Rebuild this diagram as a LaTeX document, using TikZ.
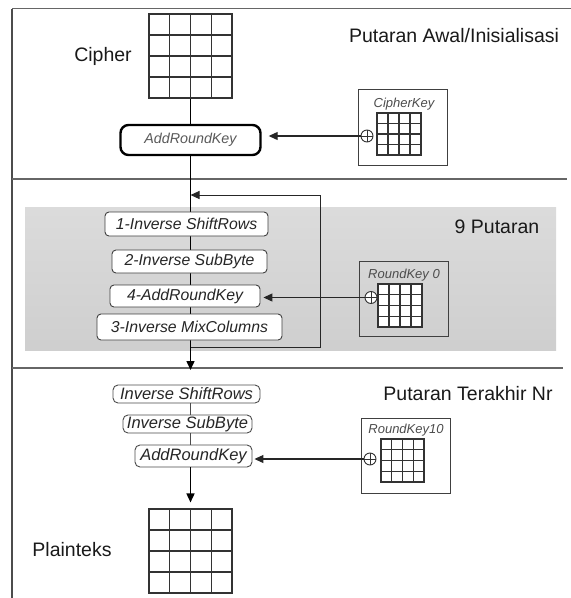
\documentclass[tikz,border=0pt]{standalone}
\usepackage{fontspec}
\setmainfont{Liberation Sans}
\usetikzlibrary{arrows.meta,calc}

\tikzset{
  frameline/.style={draw=black!60, line width=1.8pt},
  mainline/.style={draw=black, line width=1.5pt},
  arr/.style={-{Triangle[length=9pt,width=8pt]}, draw=black!85, line width=1.1pt},
  lbl/.style={inner sep=0pt, anchor=base, text=black!90, font=\fontsize{19.5}{22}\selectfont},
  keylbl/.style={inner sep=0pt, anchor=base, text=black!70, font=\itshape\fontsize{13}{15}\selectfont},
  cellgrid/.style={draw=black!80, line width=1.1pt, inner sep=0pt, fill=white,
    path picture={
      \foreach \f in {0.25,0.5,0.75}{
        \draw[line width=1.1pt, black!80]
          ($(path picture bounding box.north west)!\f!(path picture bounding box.north east)$) --
          ($(path picture bounding box.south west)!\f!(path picture bounding box.south east)$)
          ($(path picture bounding box.north west)!\f!(path picture bounding box.south west)$) --
          ($(path picture bounding box.north east)!\f!(path picture bounding box.south east)$);
      }
    }},
  keybox/.style={draw=black!75, line width=1pt, inner sep=0pt, minimum width=89pt, minimum height=76pt},
  xorsym/.style={circle, draw=black!80, line width=0.9pt, minimum size=12pt, inner sep=0pt, fill=white,
    path picture={\draw[line width=0.9pt, black!80]
      (path picture bounding box.north) -- (path picture bounding box.south)
      (path picture bounding box.west) -- (path picture bounding box.east);}},
  firstbox/.style={draw=black, line width=2.4pt, rounded corners=8pt, fill=white, inner sep=0pt,
    text=black!65, font=\itshape\fontsize{14.3}{16}\selectfont},
  procbox/.style={draw=black!75, line width=0.9pt, rounded corners=4pt, fill=white, inner sep=0pt,
    text=black!85, font=\itshape\fontsize{15.8}{18}\selectfont},
  lastbox/.style={draw=black!70, line width=0.9pt, rounded corners=5pt, fill=white, inner sep=0pt,
    text=black!85, font=\itshape\fontsize{16.5}{18}\selectfont},
}

\begin{document}
\begin{tikzpicture}[x=1pt, y=-1pt]
\useasboundingbox (0,0) rectangle (571,598);

% frame and section separators
\draw[frameline] (12,8.5) -- (571,8.5);
\draw[draw=black!70, line width=1.4pt] (12,8.5) -- (12,598);
\draw[frameline] (12,179) -- (567,179);
\draw[frameline] (12,368) -- (563,368);

% shaded band of the middle rounds
\shade[top color=gray!28, middle color=gray!5, bottom color=gray!38]
  (25,207) rectangle (556,350);

% ---- initial round ----
\node[cellgrid, minimum width=83pt, minimum height=84pt] (cgrid) at (190.5,56) {};
\node[lbl] (tcipher) at (103,61) {Cipher};
\node[lbl] (tawal) at (454,42) {Putaran Awal/Inisialisasi};
\node[firstbox, minimum width=140pt, minimum height=30pt] (ark1) at (190.5,140) {AddRoundKey};

\node[keybox] (kbox1) at (402.5,127.5) {};
\node[keylbl] (klbl1) at (404,107) {CipherKey};
\node[cellgrid, minimum width=44pt, minimum height=42pt] (kgrid1) at (399,134) {};
\node[xorsym] (xor1) at (367,136) {};

\draw[mainline] (cgrid.south) -- (ark1.north);
\draw[arr, shorten >=7pt] (xor1.west) -- (xor1.west -| ark1.east);

% main data path down to the last round
\coordinate (mainend) at (190.5,370);
\draw[mainline, -{Triangle[length=9pt,width=8pt]}] (ark1.south) -- (mainend);

% loop of the nine middle rounds
\coordinate (loopfrom) at (190.5,347);
\coordinate (loopto) at (190.5,195);
\draw[arr, line width=1pt] (loopfrom) -- (320,347) |- (loopto);

% ---- nine middle rounds ----
\node[lbl] (tnine) at (497,233) {9 Putaran};
\node[procbox, minimum width=163pt, minimum height=24pt] (b1) at (186.5,224) {1-Inverse ShiftRows};
\node[procbox, minimum width=155pt, minimum height=23pt] (b2) at (189.5,261.5) {2-Inverse SubByte};
\node[procbox, minimum width=150pt, minimum height=22pt] (b4) at (185,296) {4-AddRoundKey};
\node[procbox, minimum width=185pt, minimum height=26pt] (b3) at (189.5,327) {3-Inverse MixColumns};

\node[keybox, minimum height=75pt] (kbox2) at (403.5,298.5) {};
\node[keylbl] (klbl2) at (404,278) {RoundKey 0};
\node[cellgrid, minimum width=44pt, minimum height=43pt] (kgrid2) at (400,305.5) {};
\node[xorsym] (xor2) at (371,297.5) {};
\draw[arr, shorten >=3pt] (xor2.west) -- (xor2.west -| b4.east);

% ---- final round ----
\node[lbl] (tlast) at (468,400) {Putaran Terakhir Nr};
\node[lastbox, minimum width=147pt, minimum height=18pt] (l1) at (186.5,394) {Inverse ShiftRows};
\node[lastbox, minimum width=129pt, minimum height=18pt] (l2) at (187.5,424) {Inverse SubByte};
\node[lastbox, minimum width=117pt, minimum height=22pt] (l3) at (193.5,456) {AddRoundKey};

\draw[draw=black!70, line width=0.8pt] (l1.south -| mainend) -- (l2.north -| mainend);
\draw[draw=black!70, line width=0.8pt] (l2.south -| mainend) -- (l3.north -| mainend);

\node[keybox, minimum height=75pt] (kbox3) at (405.5,455.5) {};
\node[keylbl] (klbl3) at (406,433) {RoundKey10};
\node[cellgrid, minimum width=43pt, minimum height=43pt] (kgrid3) at (402.5,460.5) {};
\node[xorsym] (xor3) at (370,459) {};
\draw[arr, shorten >=2pt] (xor3.west) -- (xor3.west -| l3.east);

\node[cellgrid, minimum width=83pt, minimum height=84pt] (pgrid) at (190.5,551) {};
\node[lbl] (tplain) at (72,556) {Plainteks};
\draw[mainline, -{Triangle[length=9pt,width=8pt]}, shorten >=6pt] (l3.south -| pgrid.north) -- (pgrid.north);

\end{tikzpicture}
\end{document}
